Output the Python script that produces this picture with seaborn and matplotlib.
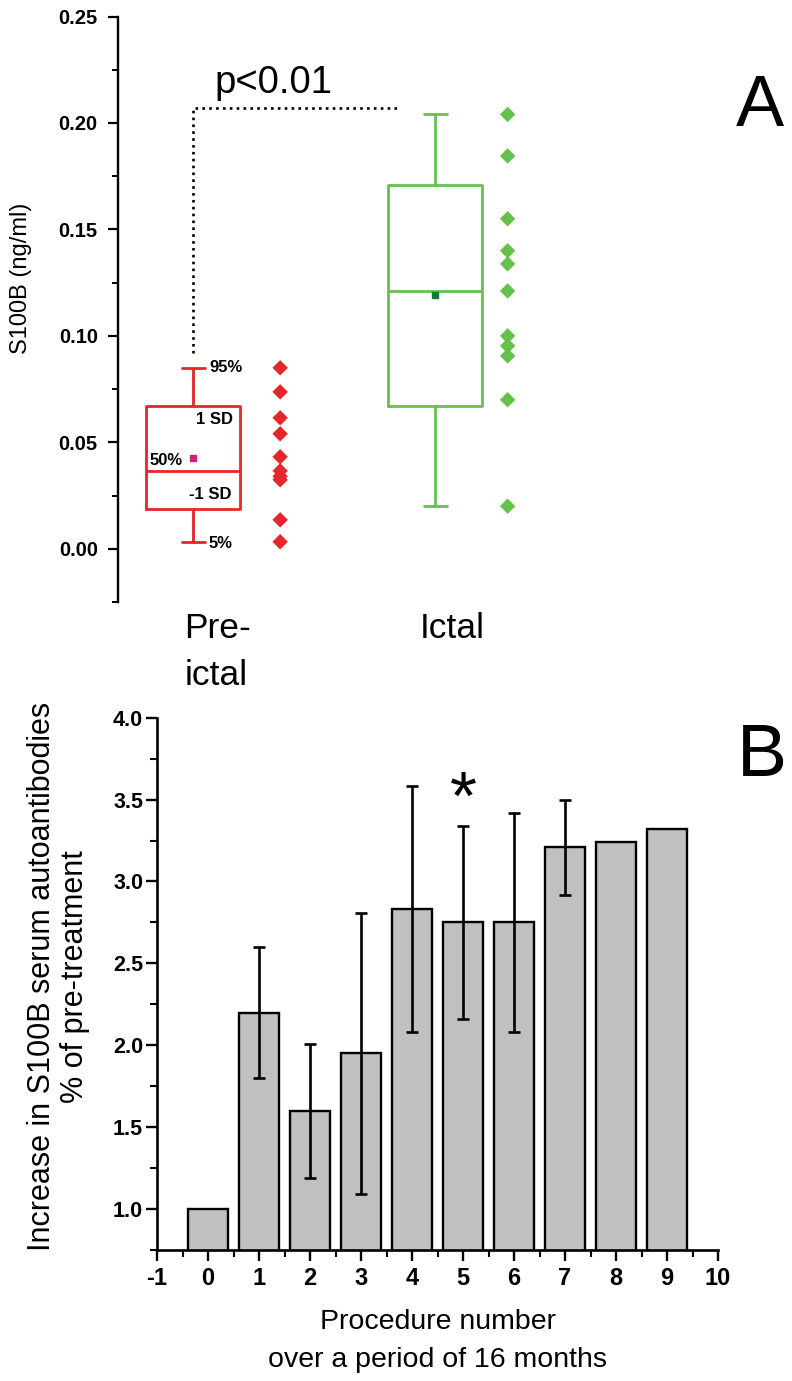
import numpy as np
import pandas as pd
import matplotlib
matplotlib.use("Agg")
import matplotlib.pyplot as plt
import seaborn as sns
from matplotlib.ticker import MultipleLocator, FormatStrFormatter

# ---------------- Panel A data ----------------
groups = ["Pre-\nictal", "Ictal"]
pre_points = [0.085, 0.0737, 0.0615, 0.054, 0.0432, 0.0366, 0.034, 0.0324, 0.0136, 0.0033]
ictal_points = [0.204, 0.1845, 0.155, 0.140, 0.1338, 0.1211, 0.100, 0.0953, 0.0906, 0.070, 0.020]
# whislo (5%), q1 (-1 SD), median (50%), q3 (1 SD), whishi (95%), mean
pre_stats = [0.0033, 0.0188, 0.0366, 0.067, 0.085, 0.0427]
ictal_stats = [0.020, 0.067, 0.121, 0.171, 0.204, 0.119]
box_labels = ["95%", "1 SD", "50%", "-1 SD", "5%"]
p_text = "p<0.01"
sig_level = 0.207
sig_low = 0.092
a_yticks = [0.00, 0.05, 0.10, 0.15, 0.20, 0.25]

# ---------------- Panel B data ----------------
procedures = [0, 1, 2, 3, 4, 5, 6, 7, 8, 9]
increase = [1.0, 2.2, 1.6, 1.95, 2.83, 2.75, 2.75, 3.21, 3.24, 3.32]
sd = [0.0, 0.40, 0.41, 0.86, 0.75, 0.59, 0.67, 0.29, 0.0, 0.0]
b_xticks = list(range(-1, 11))
b_yticks = [1.0, 1.5, 2.0, 2.5, 3.0, 3.5, 4.0]
star_proc = 5
star_y = 3.49

sns.set_style("ticks")
plt.rcParams["font.family"] = ["Liberation Sans", "DejaVu Sans"]
for k in ["text.color", "axes.labelcolor", "xtick.color", "ytick.color", "axes.edgecolor"]:
    plt.rcParams[k] = "black"

RED = "#e5262a"
GREEN = "#64c24c"

fig = plt.figure(figsize=(7.92, 13.81), dpi=100)
W, H = 792.0, 1381.0

# ================= Panel A =================
axA = fig.add_axes([118 / W, 1 - 602 / H, (792 - 118) / W, (602 - 16.5) / H])
stats = []
for lab, s in zip(groups, [pre_stats, ictal_stats]):
    stats.append(dict(whislo=s[0], q1=s[1], med=s[2], q3=s[3], whishi=s[4], mean=s[5], label=lab))
pos = [0, 1]
for i, (st, col, mcol) in enumerate(zip(stats, [RED, GREEN], ["#cc2277", "#0a7d3a"])):
    axA.bxp([st], positions=[pos[i]], widths=0.39, showmeans=True, showfliers=False,
            manage_ticks=False, capwidths=0.095,
            boxprops=dict(color=col, linewidth=2.0),
            whiskerprops=dict(color=col, linewidth=2.0),
            capprops=dict(color=col, linewidth=2.0),
            medianprops=dict(color=col, linewidth=2.0),
            meanprops=dict(marker="s", markerfacecolor=mcol, markeredgecolor=mcol, markersize=4))

dfA = pd.DataFrame({
    "group": ["pre"] * len(pre_points) + ["ictal"] * len(ictal_points),
    "y": pre_points + ictal_points,
})
offs = {"pre": 0.36, "ictal": 1.30}
dfA["x"] = dfA["group"].map(offs)
sns.scatterplot(data=dfA, x="x", y="y", hue="group", palette={"pre": RED, "ictal": GREEN},
                marker="D", s=62, linewidth=0, legend=False, ax=axA, zorder=3)

axA.plot([0, 0, 0.847], [sig_low, sig_level, sig_level], color="black",
         linestyle=(0, (1, 1.6)), linewidth=1.9)
axA.text(0.09, 0.2141, p_text, fontsize=27.5, ha="left", va="baseline")

axA.set_xlim(-0.31, 2.475)
axA.set_ylim(-0.025, 0.25)
axA.set_yticks(a_yticks)
axA.yaxis.set_minor_locator(MultipleLocator(0.025))
axA.yaxis.set_major_formatter(FormatStrFormatter("%.2f"))
axA.set_xticks([])
for sp in ["top", "right", "bottom"]:
    axA.spines[sp].set_visible(False)
axA.spines["left"].set_linewidth(1.7)
axA.spines["left"].set_bounds(-0.025, 0.25)
axA.tick_params(axis="y", which="major", length=7.5, width=1.6, direction="out", pad=7,
                labelsize=14.5)
axA.tick_params(axis="y", which="minor", length=4.5, width=1.4, direction="out")
for t in axA.get_yticklabels():
    t.set_fontweight("bold")
axA.set_xlabel("")
axA.set_ylabel("S100B (ng/ml)", fontsize=17)
axA.yaxis.set_label_coords(-0.1276, 0.553)

# box annotations
ann_kw = dict(fontsize=12, fontweight="bold")
axA.text(0.066, pre_stats[4], box_labels[0], ha="left", va="center", **ann_kw)
axA.text(0.165, 0.0606, box_labels[1], ha="right", va="center", **ann_kw)
axA.text(-0.041, 0.0413, box_labels[2], ha="right", va="center", **ann_kw)
axA.text(0.161, 0.0254, box_labels[3], ha="right", va="center", **ann_kw)
axA.text(0.066, 0.0023, box_labels[4], ha="left", va="center", **ann_kw)

# category labels (one text per line)
line_base = [-0.0418, -0.0638]
for j, line in enumerate(groups[0].split("\n")):
    axA.text(-0.035, line_base[j], line, fontsize=25.5, ha="left", va="baseline", clip_on=False)
axA.text(0.935, line_base[0], groups[1], fontsize=25.5, ha="left", va="baseline", clip_on=False)

fig.text(760 / W, 1 - 108 / H, "A", fontsize=52, ha="center", va="center")

# ================= Panel B =================
axB = fig.add_axes([157 / W, 1 - 1250 / H, (718 - 157) / W, (1250 - 717.7) / H])
dfB = pd.DataFrame({"proc": procedures, "inc": increase, "sd": sd})
sns.barplot(data=dfB, x="proc", y="inc", color="#c0c0c0", saturation=1, edgecolor="black",
            linewidth=1.7, width=0.8, errorbar=None, ax=axB, zorder=2)
m = dfB["sd"] > 0
axB.errorbar(dfB.loc[m, "proc"], dfB.loc[m, "inc"], yerr=dfB.loc[m, "sd"], fmt="none",
             ecolor="black", elinewidth=1.9, capsize=4.2, capthick=1.9, zorder=3)
axB.text(star_proc, star_y, "*", fontsize=50, ha="center", va="center")

axB.set_xlim(-1, 10)
axB.set_ylim(0.75, 4.0)
axB.set_xticks(b_xticks)
axB.set_xticklabels([str(v) for v in b_xticks])
axB.xaxis.set_minor_locator(MultipleLocator(0.5))
axB.set_yticks(b_yticks)
axB.yaxis.set_minor_locator(MultipleLocator(0.25))
axB.yaxis.set_major_formatter(FormatStrFormatter("%.1f"))
for sp in ["top", "right"]:
    axB.spines[sp].set_visible(False)
for sp in ["left", "bottom"]:
    axB.spines[sp].set_linewidth(1.9)
axB.tick_params(which="major", length=8, width=1.7, direction="out")
axB.tick_params(which="minor", length=5, width=1.5, direction="out")
axB.tick_params(axis="y", labelsize=15.5, pad=2)
axB.tick_params(axis="x", labelsize=17, pad=4)
for t in axB.get_yticklabels():
    t.set_fontweight("bold")
for t in axB.get_xticklabels():
    t.set_fontweight("bold")
axB.set_xlabel("Procedure number\nover a period of 16 months", fontsize=20.5,
               linespacing=1.6, labelpad=14)
axB.set_ylabel("Increase in S100B serum autoantibodies\n% of pre-treatment", fontsize=22,
               linespacing=1.12)
axB.yaxis.set_label_coords(-0.119, 0.513)

fig.text(762 / W, 1 - 757 / H, "B", fontsize=54, ha="center", va="center")

fig.savefig("out.png", dpi=100)
